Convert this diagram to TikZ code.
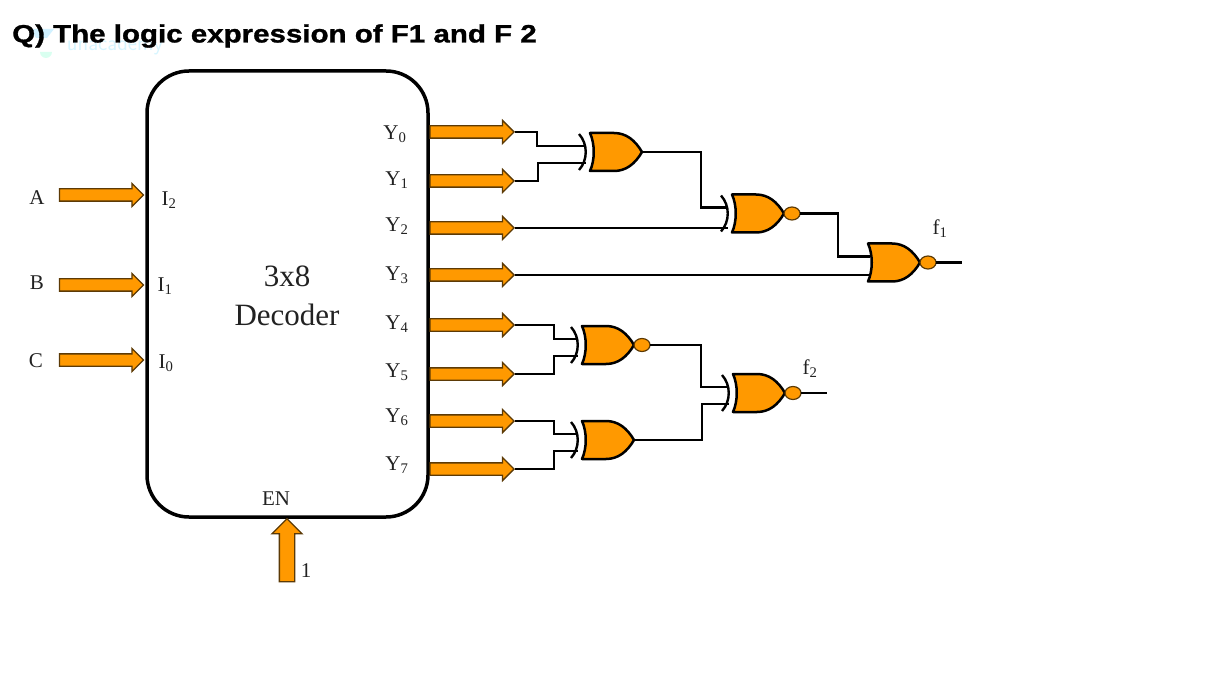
\documentclass[tikz,border=0pt]{standalone}
\usepackage{fontspec}
\setmainfont{Liberation Serif}
\newfontfamily\titlefont[FakeStretch=1.18,FakeBold=1.2]{Liberation Sans}
\usetikzlibrary{shapes.arrows}
\definecolor{gateorange}{HTML}{FF9900}
\definecolor{arrowedge}{HTML}{5C3A06}
\definecolor{inktext}{HTML}{222222}
\newcommand{\orbody}{\draw[gatebody] (0,-19) -- (24,-19) .. controls (36,-19) and (45,-12) .. (52,0) .. controls (45,12) and (36,19) .. (24,19) -- (0,19) .. controls (5,8) and (5,-8) .. (0,-19) -- cycle;}
\newcommand{\backarc}{\draw[wire] (-11,-18) .. controls (-2,-8) and (-2,8) .. (-11,18);}
\newcommand{\bubble}{\draw[fill=gateorange,draw=arrowedge,line width=1.2pt] (60,0) ellipse (8 and 6.5);}
\begin{document}
\begin{tikzpicture}[x=1pt,y=-1pt,
    wire/.style={line width=2.4pt,black},
    gatebody/.style={line width=2.5pt,draw=black,fill=gateorange,line join=round},
    lbl/.style={inner sep=0pt,text=inktext,font=\fontsize{21}{24}\selectfont},
    sigarrow/.style={single arrow,draw=arrowedge,fill=gateorange,line width=1.3pt,inner sep=5.5pt,single arrow head extend=5.5pt,minimum width=22pt,minimum height=84pt},
    orgate/.pic={\orbody\backarc
      \coordinate (in1) at (-4,-6); \coordinate (in2) at (-4,11); \coordinate (out) at (52,0);},
    xnorgate/.pic={\orbody\backarc\bubble
      \coordinate (in1) at (-4,-6); \coordinate (in2) at (-4,11); \coordinate (out) at (68,0);},
    norgate/.pic={\orbody\bubble
      \coordinate (in1) at (2,-6); \coordinate (in2) at (2,11); \coordinate (out) at (68,0);}]
  \useasboundingbox (0,0) rectangle (1218,676);

  % faint mark behind the heading
  \fill[blue!30!cyan!18] (30,29) -- (54,29) -- (47,38) -- (36,38) -- cycle;
  \fill[green!40!cyan!15] (40,52) arc (180:0:6) -- cycle;
  \node[inner sep=0pt,text=blue!25!cyan!16,font=\sffamily\fontsize{22}{24}\selectfont] (mark) at (115,45) {unacademy};
  \node[inner sep=0pt,anchor=west,font=\titlefont\bfseries\fontsize{25}{28}\selectfont] (title) at (12,36) {Q) The logic expression of F1 and F 2};

  % decoder
  \node[draw,line width=3.5pt,rounded corners=42pt,minimum width=281pt,minimum height=446pt] (dec) at (287.5,294) {};
  \node[align=center,inner sep=0pt,text=inktext,font=\fontsize{31}{39}\selectfont] (dectext) at (287,296) {3x8\\Decoder};

  % inputs
  \node[sigarrow] (a) at (98.5,195) {};
  \node[sigarrow] (b) at (98.5,285) {};
  \node[sigarrow] (c) at (98.5,360) {};
  \node[lbl] (la) at (37,198) {A};
  \node[lbl] (lb) at (37,283) {B};
  \node[lbl] (lc) at (36,361) {C};
  \node[lbl] (i2) at (169,200) {I\textsubscript{2}};
  \node[lbl] (i1) at (165,286) {I\textsubscript{1}};
  \node[lbl] (i0) at (166,363) {I\textsubscript{0}};

  % outputs
  \node[sigarrow] (y0) at (469,132) {};
  \node[sigarrow] (y1) at (469,181) {};
  \node[sigarrow] (y2) at (469,228) {};
  \node[sigarrow] (y3) at (469,275) {};
  \node[sigarrow] (y4) at (469,325) {};
  \node[sigarrow] (y5) at (469,374) {};
  \node[sigarrow] (y6) at (469,421) {};
  \node[sigarrow] (y7) at (469,469) {};
  \node[lbl] (ly0) at (395,134) {Y\textsubscript{0}};
  \node[lbl] (ly1) at (397,180) {Y\textsubscript{1}};
  \node[lbl] (ly2) at (397,226) {Y\textsubscript{2}};
  \node[lbl] (ly3) at (397,275) {Y\textsubscript{3}};
  \node[lbl] (ly4) at (397,324) {Y\textsubscript{4}};
  \node[lbl] (ly5) at (397,372) {Y\textsubscript{5}};
  \node[lbl] (ly6) at (397,417) {Y\textsubscript{6}};
  \node[lbl] (ly7) at (397,465) {Y\textsubscript{7}};

  % enable
  \node[sigarrow,rotate=90,inner sep=7pt,single arrow head extend=7.5pt,minimum width=29pt,minimum height=63pt] (en) at (287,554) {};
  \node[lbl] (len) at (276,499) {EN};
  \node[lbl] (one) at (306,571) {1};

  % gates
  \pic (g1) at (590,152) {orgate};
  \pic (g2) at (732,213.5) {xnorgate};
  \pic (g3) at (868,262.5) {norgate};
  \pic (g4) at (582,345) {xnorgate};
  \pic (g5) at (582,440) {orgate};
  \pic (g6) at (733,393) {xnorgate};

  % wires
  \draw[wire] (y0.tip) -- ++(22,0) |- (g1in1);
  \draw[wire] (y1.tip) -- ++(23,0) |- (g1in2);
  \draw[wire] (y2.tip) -- (y2.tip -| g2in2);
  \draw[wire] (y3.tip) -- (y3.tip -| g3in2);
  \draw[wire] (y4.tip) -- ++(39,0) |- (g4in1);
  \draw[wire] (y5.tip) -- ++(39,0) |- (g4in2);
  \draw[wire] (y6.tip) -- ++(39,0) |- (g5in1);
  \draw[wire] (y7.tip) -- ++(39,0) |- (g5in2);
  \draw[wire] (g1out) -- ++(59,0) |- (g2in1);
  \draw[wire] (g2out) -- ++(38,0) |- (g3in1);
  \draw[wire] (g4out) -- ++(51,0) |- (g6in1);
  \draw[wire] (g5out) -- ++(68,0) |- (g6in2);
  \coordinate (f1end) at (962,262.5);
  \coordinate (f2end) at (827,393);
  \draw[wire] (g3out) -- (f1end);
  \draw[wire] (g6out) -- (f2end);
  \node[lbl] (f1) at (940,229) {f\textsubscript{1}};
  \node[lbl] (f2) at (810,369) {f\textsubscript{2}};
\end{tikzpicture}
\end{document}
